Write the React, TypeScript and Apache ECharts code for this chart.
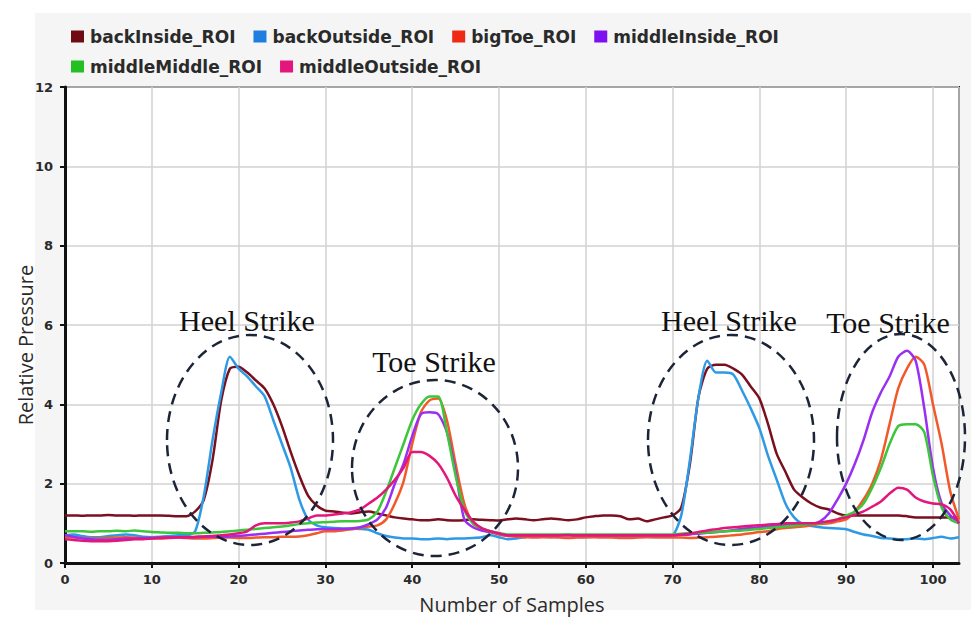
import React, { useEffect, useRef } from "react";
import * as echarts from "echarts";

const seriesNames = [
  "backInside_ROI",
  "backOutside_ROI",
  "bigToe_ROI",
  "middleInside_ROI",
  "middleMiddle_ROI",
  "middleOutside_ROI",
];
const seriesColors = ["#7a0f1e", "#2e9ae6", "#f2592a", "#9a2ff2", "#3cc63c", "#e3177b"];
const legendColors = ["#6e0b14", "#1f7fe0", "#ee2a14", "#7d10f0", "#22c022", "#e3177b"];

const xTicks = [0, 10, 20, 30, 40, 50, 60, 70, 80, 90, 100];
const yTicks = [0, 2, 4, 6, 8, 10, 12];

const backInside = [
  1.2, 1.2, 1.19, 1.2, 1.2, 1.21, 1.2, 1.2, 1.19, 1.2,
  1.2, 1.2, 1.19, 1.18, 1.18, 1.3, 1.6, 2.6, 4.1, 4.9,
  4.95, 4.8, 4.6, 4.4, 4.0, 3.45, 2.8, 2.2, 1.7, 1.45,
  1.32, 1.3, 1.27, 1.25, 1.28, 1.3, 1.25, 1.2, 1.15, 1.12,
  1.1, 1.08, 1.08, 1.1, 1.08, 1.07, 1.08, 1.1, 1.09, 1.08,
  1.07, 1.1, 1.12, 1.1, 1.08, 1.1, 1.12, 1.1, 1.08, 1.1,
  1.15, 1.18, 1.2, 1.2, 1.18, 1.1, 1.12, 1.05, 1.1, 1.15,
  1.2, 1.4, 2.5, 4.2, 4.9, 5.0, 5.0, 4.9, 4.75, 4.45,
  4.15, 3.5, 2.75, 2.3, 1.85, 1.65, 1.5, 1.4, 1.35, 1.25,
  1.2, 1.2, 1.2, 1.2, 1.2, 1.2, 1.2, 1.18, 1.15, 1.15,
  1.15, 1.15, 1.15, 1.15,
];

const backOutside = [
  0.7, 0.72, 0.68, 0.65, 0.65, 0.68, 0.7, 0.72, 0.7, 0.66,
  0.65, 0.66, 0.68, 0.7, 0.7, 0.8, 1.7, 3.1, 4.3, 5.2,
  4.9, 4.7, 4.45, 4.2, 3.6, 3.0, 2.4, 1.6, 1.1, 0.95,
  0.9, 0.88, 0.87, 0.87, 0.86, 0.84, 0.75, 0.68, 0.64, 0.62,
  0.62, 0.6, 0.6, 0.62, 0.6, 0.62, 0.62, 0.63, 0.65, 0.7,
  0.65, 0.6, 0.62, 0.65, 0.68, 0.66, 0.65, 0.7, 0.72, 0.66,
  0.65, 0.66, 0.68, 0.66, 0.65, 0.66, 0.68, 0.66, 0.65, 0.68,
  0.7, 1.2, 2.6, 4.2, 5.1, 4.8, 4.8, 4.75, 4.35, 3.9,
  3.4, 2.7, 2.1, 1.5, 1.15, 0.98, 0.93, 0.9, 0.88, 0.87,
  0.85, 0.78, 0.72, 0.68, 0.63, 0.62, 0.6, 0.6, 0.62, 0.6,
  0.63, 0.66, 0.62, 0.65,
];

const bigToe = [
  0.65, 0.64, 0.63, 0.62, 0.62, 0.63, 0.64, 0.65, 0.64, 0.63,
  0.62, 0.62, 0.63, 0.64, 0.63, 0.62, 0.62, 0.63, 0.64, 0.64,
  0.63, 0.63, 0.64, 0.65, 0.65, 0.66, 0.66, 0.67, 0.7, 0.75,
  0.8, 0.8, 0.82, 0.85, 0.88, 0.92, 0.95, 1.1, 1.5, 2.05,
  3.0, 3.8, 4.1, 4.15, 3.6, 2.5, 1.5, 1.0, 0.85, 0.78,
  0.72, 0.68, 0.66, 0.65, 0.64, 0.65, 0.65, 0.64, 0.63, 0.64,
  0.65, 0.65, 0.64, 0.64, 0.63, 0.63, 0.64, 0.65, 0.65, 0.64,
  0.64, 0.64, 0.63, 0.64, 0.65, 0.66, 0.68, 0.7, 0.72, 0.75,
  0.78, 0.8, 0.85, 0.88, 0.9, 0.92, 0.95, 0.98, 1.0, 1.05,
  1.1, 1.3, 1.6, 2.0, 2.6, 3.5, 4.4, 4.9, 5.2, 5.0,
  4.0, 3.0, 1.8, 1.1,
];

const middleInside = [
  0.7, 0.66, 0.62, 0.6, 0.58, 0.58, 0.6, 0.62, 0.62, 0.63,
  0.63, 0.64, 0.64, 0.65, 0.65, 0.65, 0.66, 0.66, 0.66, 0.67,
  0.68, 0.7, 0.72, 0.74, 0.76, 0.78, 0.8, 0.82, 0.84, 0.85,
  0.86, 0.86, 0.86, 0.87, 0.9, 0.98, 1.1, 1.4, 2.0, 2.5,
  3.2, 3.75, 3.8, 3.75, 3.3, 2.3, 1.1, 0.9, 0.82, 0.78,
  0.74, 0.7, 0.7, 0.7, 0.7, 0.7, 0.7, 0.7, 0.7, 0.7,
  0.7, 0.7, 0.7, 0.7, 0.7, 0.7, 0.7, 0.7, 0.7, 0.7,
  0.7, 0.71, 0.72, 0.74, 0.76, 0.78, 0.8, 0.83, 0.86, 0.88,
  0.9, 0.92, 0.94, 0.95, 0.96, 0.97, 0.98, 1.05, 1.25, 1.6,
  2.0, 2.5, 3.1, 3.8, 4.3, 4.7, 5.2, 5.35, 5.1, 3.9,
  2.4, 1.5, 1.2, 1.0,
];

const middleMiddle = [
  0.8, 0.8, 0.8, 0.79, 0.8, 0.8, 0.81, 0.8, 0.82, 0.8,
  0.78, 0.77, 0.76, 0.76, 0.75, 0.75, 0.76, 0.77, 0.78, 0.8,
  0.82, 0.84, 0.86, 0.88, 0.9, 0.92, 0.95, 0.98, 1.0, 1.02,
  1.03, 1.04, 1.05, 1.05, 1.06, 1.1, 1.3, 1.8, 2.4, 3.0,
  3.6, 4.0, 4.2, 4.2, 3.3, 2.2, 1.35, 1.0, 0.88, 0.8,
  0.75, 0.72, 0.72, 0.72, 0.72, 0.72, 0.72, 0.72, 0.72, 0.72,
  0.72, 0.72, 0.72, 0.72, 0.72, 0.72, 0.72, 0.72, 0.72, 0.72,
  0.72, 0.74, 0.75, 0.76, 0.77, 0.78, 0.8, 0.81, 0.82, 0.84,
  0.86, 0.88, 0.9, 0.92, 0.94, 0.96, 0.98, 1.0, 1.05, 1.1,
  1.2, 1.3, 1.5, 1.9, 2.4, 3.0, 3.45, 3.5, 3.5, 3.3,
  2.2, 1.4, 1.1, 1.0,
];

const middleOutside = [
  0.6, 0.58, 0.56, 0.55, 0.55, 0.55, 0.56, 0.58, 0.6, 0.6,
  0.62, 0.63, 0.64, 0.65, 0.65, 0.66, 0.67, 0.68, 0.7, 0.72,
  0.75, 0.8, 0.95, 1.0, 1.0, 1.0, 1.02, 1.05, 1.12, 1.2,
  1.2, 1.22, 1.25, 1.28, 1.35, 1.5, 1.65, 1.85, 2.1, 2.4,
  2.8, 2.8, 2.7, 2.5, 2.15, 1.7, 1.35, 1.05, 0.88, 0.8,
  0.75, 0.7, 0.7, 0.7, 0.7, 0.7, 0.7, 0.7, 0.7, 0.7,
  0.7, 0.7, 0.7, 0.7, 0.7, 0.7, 0.7, 0.7, 0.7, 0.7,
  0.7, 0.72, 0.74, 0.78, 0.82, 0.85, 0.88, 0.9, 0.92, 0.94,
  0.95, 0.97, 0.98, 1.0, 1.0, 1.0, 1.0, 1.02, 1.05, 1.1,
  1.15, 1.22, 1.3, 1.42, 1.55, 1.75, 1.9, 1.85, 1.65, 1.55,
  1.5, 1.48, 1.35, 1.0,
];

const allSeries = [backInside, backOutside, bigToe, middleInside, middleMiddle, middleOutside];

const annotations = [
  { text: "Heel Strike", cx: 247, cy: 320 },
  { text: "Toe Strike", cx: 434, cy: 361 },
  { text: "Heel Strike", cx: 729, cy: 320 },
  { text: "Toe Strike", cx: 888, cy: 322 },
];
const ellipses = [
  { cx: 250, cy: 440, rx: 83, ry: 105 },
  { cx: 435, cy: 468, rx: 83, ry: 88 },
  { cx: 731, cy: 440, rx: 83, ry: 105 },
  { cx: 901, cy: 437, rx: 64, ry: 103 },
];

export default function App() {
  const ref = useRef<HTMLDivElement>(null);
  useEffect(() => {
    document.body.style.margin = "0";
    const chart = echarts.init(ref.current!, null, { renderer: "svg" });
    const labelFont = { fontFamily: "DejaVu Sans", fontSize: 13, fontWeight: "bold", color: "#2a2a2a" };
    const legendBase = {
      left: 66,
      itemWidth: 13,
      itemHeight: 12,
      itemGap: 18,
      icon: "rect",
      textStyle: { fontFamily: "DejaVu Sans", fontSize: 17, fontWeight: "bold", color: "#2a2a2a", padding: [0, 0, 0, 1] },
    };
    const option: any = {
      animation: false,
      backgroundColor: "#ffffff",
      textStyle: { fontFamily: "DejaVu Sans" },
      legend: [
        {
          ...legendBase,
          top: 23,
          data: seriesNames.slice(0, 4).map((n, i) => ({ name: n, itemStyle: { color: legendColors[i] } })),
        },
        {
          ...legendBase,
          top: 53,
          data: seriesNames.slice(4).map((n, i) => ({ name: n, itemStyle: { color: legendColors[i + 4] } })),
        },
      ],
      grid: {
        left: 65,
        right: 12,
        top: 87,
        bottom: 49,
        show: true,
        backgroundColor: "#ffffff",
        borderColor: "#222",
        borderWidth: 2,
      },
      xAxis: {
        type: "value",
        min: 0,
        max: 103,
        interval: 10,
        name: "Number of Samples",
        nameLocation: "middle",
        nameGap: 31,
        nameTextStyle: { fontFamily: "Open Sans", fontSize: 20, color: "#2a2a2a" },
        axisLine: { show: true, lineStyle: { color: "#111", width: 3 } },
        axisTick: { show: true, length: 5, lineStyle: { color: "#111", width: 2 } },
        axisLabel: {
          ...labelFont,
          margin: 10,
          showMaxLabel: false,
          formatter: (v: number) => (xTicks.includes(v) ? String(v) : ""),
        },
        splitLine: { show: true, lineStyle: { color: "#d2d2d2", width: 1.5 } },
      },
      yAxis: {
        type: "value",
        min: 0,
        max: 12,
        interval: 2,
        axisLine: { show: true, lineStyle: { color: "#111", width: 3 } },
        axisTick: { show: true, length: 5, lineStyle: { color: "#111", width: 2 } },
        axisLabel: {
          ...labelFont,
          margin: 12,
          formatter: (v: number) => (yTicks.includes(v) ? String(v) : ""),
        },
        splitLine: { show: true, lineStyle: { color: "#d2d2d2", width: 1.5 } },
      },
      series: seriesNames.map((name, si) => ({
        name,
        type: "line",
        showSymbol: false,
        smooth: 0.25,
        lineStyle: { width: 2.5, color: seriesColors[si] },
        itemStyle: { color: legendColors[si] },
        data: allSeries[si].map((v, i) => [i, v]),
        z: 3,
      })),
      graphic: [
        {
          type: "rect",
          z: -10,
          silent: true,
          shape: { x: 35, y: 13, width: 940, height: 597 },
          style: { fill: "#f5f5f5" },
        },
        {
          type: "text",
          x: 25,
          y: 345,
          rotation: Math.PI / 2,
          style: {
            text: "Relative Pressure",
            fontFamily: "Open Sans",
            fontSize: 20,
            fill: "#2a2a2a",
            align: "center",
            verticalAlign: "middle",
          },
        },
        ...ellipses.map((e) => ({
          type: "ellipse",
          z: 20,
          shape: { cx: e.cx, cy: e.cy, rx: e.rx, ry: e.ry },
          style: { fill: "none", stroke: "#1c2438", lineWidth: 2.5, lineDash: [11, 7] },
        })),
        ...annotations.map((a) => ({
          type: "text",
          z: 21,
          x: a.cx,
          y: a.cy,
          style: {
            text: a.text,
            fontFamily: "Liberation Serif",
            fontSize: 30,
            fill: "#111",
            align: "center",
            verticalAlign: "middle",
          },
        })),
      ],
    };
    chart.setOption(option);
    return () => chart.dispose();
  }, []);
  return <div ref={ref} style={{ width: 971, height: 619 }} />;
}
